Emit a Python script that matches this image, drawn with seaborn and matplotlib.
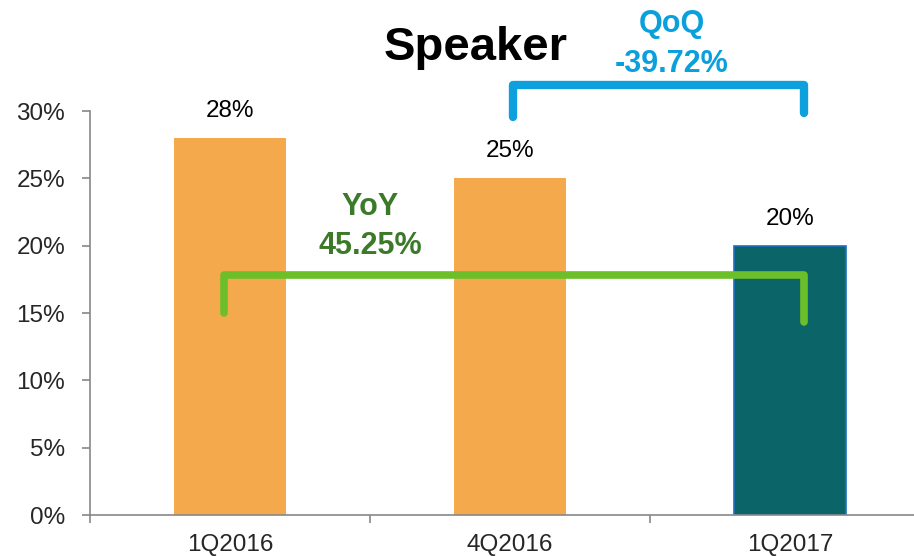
import matplotlib
matplotlib.use("Agg")
import matplotlib.pyplot as plt
import pandas as pd
import seaborn as sns
from matplotlib.ticker import FixedLocator, PercentFormatter

# date
categorii = ["1Q2016", "4Q2016", "1Q2017"]
valori = [28, 25, 20]
culori = ["#f4a94d", "#f4a94d", "#0a6468"]
etichete = ["28%", "25%", "20%"]

titlu = "Speaker"
qoq_text = "QoQ\n-39.72%"
yoy_text = "YoY\n45.25%"

# paranteze (x in unitati de categorie, y in %)
qoq_x = [1.01, 1.01, 2.05, 2.05]
qoq_y = [29.55, 31.9, 31.9, 29.85]
yoy_x = [-0.02, -0.02, 2.05, 2.05]
yoy_y = [15.0, 17.8, 17.8, 14.3]

sns.set_style("white")
plt.rcParams["font.family"] = ["Liberation Sans", "DejaVu Sans"]

df = pd.DataFrame({"cat": categorii, "val": valori})

fig = plt.figure(figsize=(9.14, 5.56), dpi=100)
ax = fig.add_axes([90 / 914, 41 / 556, 840 / 914, 404 / 556])

sns.barplot(data=df, x="cat", y="val", hue="cat", palette=culori,
            width=0.4, legend=False, ax=ax, saturation=1)
for p in ax.patches:
    p.set_linewidth(0)
# ultima bara are contur albastru
ax.patches[2].set_edgecolor("#1f6fc0")
ax.patches[2].set_linewidth(1.2)

for i, (v, t) in enumerate(zip(valori, etichete)):
    ax.annotate(t, (i, v), xytext=(0, 19.5), textcoords="offset points",
                ha="center", va="center", fontsize=17.5, color="black")

ax.set_xlim(-0.5, 2.5)
ax.set_ylim(0, 30)
ax.yaxis.set_major_locator(FixedLocator([0, 5, 10, 15, 20, 25, 30]))
ax.yaxis.set_major_formatter(PercentFormatter(decimals=0))
ax.xaxis.set_major_locator(FixedLocator([-0.5, 0.5, 1.5, 2.5]))
ax.xaxis.set_minor_locator(FixedLocator([0, 1, 2]))
ax.set_xticklabels(["", "", "", ""])
ax.set_xticklabels(categorii, minor=True)
ax.tick_params(axis="x", which="major", length=6, width=1.2, color="#888888", direction="out", bottom=True)
ax.tick_params(axis="x", which="minor", length=0, pad=14, labelsize=17.5)
ax.tick_params(axis="y", length=6, width=1.2, color="#888888", direction="out", left=True,
               pad=12, labelsize=17.5)
ax.set_xlabel("")
ax.set_ylabel("")
for s in ["top", "right"]:
    ax.spines[s].set_visible(False)
for s in ["left", "bottom"]:
    ax.spines[s].set_color("#888888")
    ax.spines[s].set_linewidth(1.2)

# paranteze QoQ / YoY
ax.plot(qoq_x, qoq_y, color="#0ea0dc", lw=6, solid_capstyle="round",
        solid_joinstyle="round", clip_on=False, zorder=5)
ax.plot(yoy_x, yoy_y, color="#6dbf2a", lw=5.5, solid_capstyle="round",
        solid_joinstyle="round", clip_on=False, zorder=5)

fig.text(476 / 914, 1 - 48 / 556, titlu, ha="center", va="center",
         fontsize=34, fontweight="bold", color="black")
fig.text(672 / 914, 1 - 44 / 556, qoq_text, ha="center", va="center",
         fontsize=22, fontweight="bold", color="#0aa0dc", linespacing=1.4)
ax.text(0.5, 21.4, yoy_text, ha="center", va="center",
        fontsize=22, fontweight="bold", color="#3c7a2a", linespacing=1.4)

fig.savefig("out.png", dpi=100)
